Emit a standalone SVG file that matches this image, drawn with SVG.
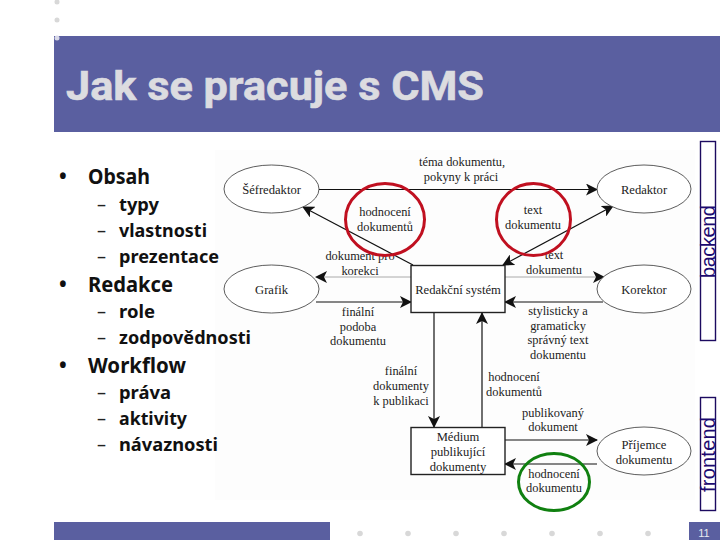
<svg xmlns="http://www.w3.org/2000/svg" width="720" height="540" viewBox="0 0 720 540">
<style>
.band{fill:#5a5fa0}
.dot{fill:#d8d8d8}
.title{font:bold 40px Roboto,"Noto Sans",sans-serif;fill:#dcdce0;stroke:#dcdce0;stroke-width:.6}
.b1{font:bold 20.5px "Noto Sans","DejaVu Sans",sans-serif;fill:#111}
.b2{font:bold 18.5px "Noto Sans","DejaVu Sans",sans-serif;fill:#111}
.d{font:18px "Noto Sans","DejaVu Sans",sans-serif;fill:#222}
.l{font:12.4px "Liberation Serif",serif;fill:#222;text-anchor:middle}
.n{font:12.6px "Liberation Serif",serif;fill:#222;text-anchor:middle}
.shape{fill:#fff;stroke:#333;stroke-width:.8}
.box{fill:#fff;stroke:#222;stroke-width:1.4}
.c{fill:none;stroke:#111;stroke-width:1.2}
.g{fill:none;stroke:#aaa;stroke-width:1}
.side{fill:#fff;stroke:#1c0a60;stroke-width:1.4}
.st{font:20px "Liberation Sans",sans-serif;fill:#1c0a70}
.ring{fill:none;stroke-width:3}
</style>
<defs>
<marker id="a" viewBox="0 0 12 12" refX="11" refY="6" markerWidth="12" markerHeight="12" markerUnits="userSpaceOnUse" orient="auto-start-reverse"><path d="M0 0L12 6L0 12L3 6Z" fill="#111"/></marker>
</defs>
<rect width="720" height="540" fill="#fff"/>
<rect x="215" y="150" width="480" height="350" fill="#fdfdfd"/>
<g id="chrome">
<rect class="band" x="54" y="36" width="666" height="96"/>
<rect class="band" x="54" y="522" width="276" height="18"/>
<rect class="band" x="689" y="522" width="31" height="18"/>
<circle class="dot" cx="57" cy="2" r="2.5"/><circle class="dot" cx="57" cy="20" r="2.5"/><circle cx="57" cy="38" r="2.5" fill="#d8d8e8"/>
<circle class="dot" cx="360" cy="533.5" r="2.8"/><circle class="dot" cx="408" cy="533.5" r="2.8"/><circle class="dot" cx="456" cy="533.5" r="2.8"/><circle class="dot" cx="504" cy="533.5" r="2.8"/><circle class="dot" cx="552" cy="533.5" r="2.8"/><circle class="dot" cx="600" cy="533.5" r="2.8"/><circle class="dot" cx="648" cy="533.5" r="2.8"/>
<text x="704" y="537" font-family="Liberation Sans,sans-serif" font-size="11" fill="#e8e8f0" text-anchor="middle">11</text>
<text class="title" x="66" y="100" textLength="418" lengthAdjust="spacingAndGlyphs">Jak se pracuje s CMS</text>
</g>
<g id="outline">
<text class="b1" x="59" y="184">•</text><text class="b1" x="88" y="184" textLength="62" lengthAdjust="spacingAndGlyphs">Obsah</text>
<text class="d" x="97" y="211">–</text><text class="b2" x="119" y="211" textLength="40" lengthAdjust="spacingAndGlyphs">typy</text>
<text class="d" x="97" y="237">–</text><text class="b2" x="119" y="237" textLength="88" lengthAdjust="spacingAndGlyphs">vlastnosti</text>
<text class="d" x="97" y="263">–</text><text class="b2" x="119" y="263" textLength="100" lengthAdjust="spacingAndGlyphs">prezentace</text>
<text class="b1" x="59" y="292">•</text><text class="b1" x="88" y="292" textLength="85" lengthAdjust="spacingAndGlyphs">Redakce</text>
<text class="d" x="97" y="318">–</text><text class="b2" x="119" y="318" textLength="36" lengthAdjust="spacingAndGlyphs">role</text>
<text class="d" x="97" y="344">–</text><text class="b2" x="119" y="344" textLength="132" lengthAdjust="spacingAndGlyphs">zodpovědnosti</text>
<text class="b1" x="59" y="373">•</text><text class="b1" x="88" y="373" textLength="98" lengthAdjust="spacingAndGlyphs">Workflow</text>
<text class="d" x="97" y="399">–</text><text class="b2" x="119" y="399" textLength="52" lengthAdjust="spacingAndGlyphs">práva</text>
<text class="d" x="97" y="425">–</text><text class="b2" x="119" y="425" textLength="68" lengthAdjust="spacingAndGlyphs">aktivity</text>
<text class="d" x="97" y="451">–</text><text class="b2" x="119" y="451" textLength="99" lengthAdjust="spacingAndGlyphs">návaznosti</text>
</g>
<g id="connectors">
<path class="c" d="M319 189.5H597" marker-end="url(#a)"/>
<path class="c" d="M413 265L303 207" marker-end="url(#a)"/>
<path class="c" d="M503 265L613 206" marker-start="url(#a)" marker-end="url(#a)"/>
<path class="g" d="M411 277H319"/><path class="c" stroke-opacity="0" d="M330 277H316" marker-end="url(#a)"/>
<path class="c" d="M316 302H411" marker-end="url(#a)"/>
<path class="g" d="M505 277H603"/><path class="c" stroke-opacity="0" d="M590 277H604" marker-end="url(#a)"/>
<path class="c" d="M603 302H505" marker-end="url(#a)"/>
<path class="c" d="M434 312V427" marker-end="url(#a)"/>
<path class="c" d="M482 427V313" marker-end="url(#a)"/>
<path class="c" d="M505 440H597" marker-end="url(#a)"/>
<path class="c" d="M597 464H505" marker-end="url(#a)"/>
</g>
<g id="sefredaktor"><ellipse class="shape" cx="271.5" cy="189" rx="47.5" ry="24"/><text class="n" x="271.5" y="194">Šéfredaktor</text></g>
<g id="grafik"><ellipse class="shape" cx="271.5" cy="289" rx="47.5" ry="24"/><text class="n" x="271.5" y="294">Grafik</text></g>
<g id="redaktor"><ellipse class="shape" cx="644" cy="189" rx="47" ry="24"/><text class="n" x="644" y="194">Redaktor</text></g>
<g id="korektor"><ellipse class="shape" cx="644" cy="289" rx="47" ry="24"/><text class="n" x="644" y="294">Korektor</text></g>
<g id="system"><rect class="box" x="411" y="265.5" width="94" height="47"/><text class="n" x="458" y="294">Redakční systém</text></g>
<g id="medium"><rect class="box" x="411" y="427.5" width="94" height="47"/><text class="n" x="458" y="441">Médium</text><text class="n" x="458" y="456">publikující</text><text class="n" x="458" y="471">dokumenty</text></g>
<g id="prijemce"><ellipse class="shape" cx="644" cy="451" rx="47" ry="24"/><text class="n" x="644" y="449">Příjemce</text><text class="n" x="644" y="464">dokumentu</text></g>
<g id="labels">
<text class="l" x="462" y="166">téma dokumentu,</text><text class="l" x="461" y="181">pokyny k práci</text>
<text class="l" x="385" y="216">hodnocení</text><text class="l" x="385" y="231">dokumentů</text>
<text class="l" x="533" y="214">text</text><text class="l" x="533" y="229">dokumentu</text>
<text class="l" x="360" y="260">dokument pro</text><text class="l" x="360" y="275">korekci</text>
<text class="l" x="554" y="259">text</text><text class="l" x="554" y="274">dokumentu</text>
<text class="l" x="358" y="316">finální</text><text class="l" x="358" y="331">podoba</text><text class="l" x="358" y="345">dokumentu</text>
<text class="l" x="558" y="315">stylisticky a</text><text class="l" x="558" y="330">gramaticky</text><text class="l" x="558" y="344">správný text</text><text class="l" x="558" y="359">dokumentu</text>
<text class="l" x="401" y="375">finální</text><text class="l" x="401" y="390">dokumenty</text><text class="l" x="401" y="405">k publikaci</text>
<text class="l" x="514" y="381">hodnocení</text><text class="l" x="514" y="396">dokumentů</text>
<text class="l" x="553" y="417">publikovaný</text><text class="l" x="553" y="431">dokument</text>
<text class="l" x="554" y="478">hodnocení</text><text class="l" x="554" y="492">dokumentu</text>
</g>
<g id="rings">
<ellipse class="ring" stroke="#c01020" cx="385" cy="219.5" rx="39.5" ry="36"/>
<ellipse class="ring" stroke="#c01020" cx="533.5" cy="219.5" rx="37" ry="36"/>
<ellipse class="ring" stroke="#108010" cx="554" cy="482" rx="35.5" ry="28.5"/>
</g>
<g id="backend"><rect class="side" x="700.5" y="141.5" width="15" height="199"/><text class="st" transform="translate(715 278) rotate(-90)" textLength="73">backend</text></g>
<g id="frontend"><rect class="side" x="700.5" y="397.5" width="15" height="113"/><text class="st" transform="translate(715 492) rotate(-90)" textLength="75">frontend</text></g>
</svg>
